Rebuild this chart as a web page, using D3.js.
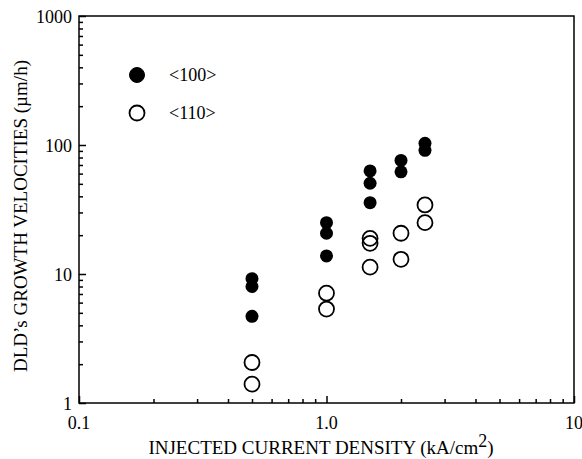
<!DOCTYPE html>
<html>
<head>
<meta charset="utf-8">
<script src="https://cdn.jsdelivr.net/npm/d3@7"></script>
<style>
  body { margin: 0; background: #fff; }
  text { font-family: "Liberation Serif", "DejaVu Serif", serif; fill: #000; }
</style>
</head>
<body>
<svg id="chart" width="582" height="459"></svg>
<script>
// current densities (kA/cm2) and measured velocities (um/h)
var dir100X = [0.5, 0.5, 0.5, 1.0, 1.0, 1.0, 1.5, 1.5, 1.5, 2.0, 2.0, 2.5, 2.5];
var dir100Y = [9.2, 8.0, 4.7, 25.0, 20.7, 13.8, 63, 50.5, 35.7, 76, 62, 103, 91];
var dir110X = [0.5, 0.5, 1.0, 1.0, 1.5, 1.5, 1.5, 2.0, 2.0, 2.5, 2.5];
var dir110Y = [2.06, 1.40, 7.1, 5.35, 18.9, 17.3, 11.3, 20.7, 13.0, 34.3, 25.0];
var xTickLabels = ['0.1', '1.0', '10'];
var yTickLabels = ['1', '10', '100', '1000'];
var legendLabels = ['<100>', '<110>'];

(function () {
    var
    svg = d3.select('#chart'),
    pLeft = 79, pRight = 574, pTop = 16, pBottom = 403;

    var x = d3.scaleLog().domain([0.1, 10]).range([pLeft, pRight]);
    var y = d3.scaleLog().domain([1, 1000]).range([pBottom, pTop]);

    function minorTicks(domain) {
        var out = [];
        for (var d = domain[0]; d < domain[1] * 0.999; d *= 10) {
            for (var k = 2; k <= 9; k++) out.push(d * k);
        }
        return out;
    }
    function noDomain(g) { g.select('.domain').remove(); }

    // frame
    svg.append('rect')
        .attr('x', pLeft).attr('y', pTop)
        .attr('width', pRight - pLeft).attr('height', pBottom - pTop)
        .attr('fill', 'none').attr('stroke', '#000').attr('stroke-width', 1.5);

    // left axis ticks (inward)
    svg.append('g')
        .attr('transform', 'translate(' + pLeft + ',0)')
        .call(d3.axisRight(y).tickValues(minorTicks(y.domain())).tickSize(4).tickFormat(''))
        .call(noDomain);
    svg.append('g')
        .attr('transform', 'translate(' + pLeft + ',0)')
        .call(d3.axisRight(y).tickValues([1, 10, 100, 1000]).tickSize(7).tickFormat(''))
        .call(noDomain);

    // bottom axis ticks (inward)
    svg.append('g')
        .attr('transform', 'translate(0,' + pBottom + ')')
        .call(d3.axisTop(x).tickValues(minorTicks(x.domain())).tickSize(4).tickFormat(''))
        .call(noDomain);
    svg.append('g')
        .attr('transform', 'translate(0,' + pBottom + ')')
        .call(d3.axisTop(x).tickValues([0.1, 1, 10]).tickSize(7).tickFormat(''))
        .call(noDomain);

    svg.selectAll('line').attr('stroke-width', 1.5);

    // tick labels
    svg.selectAll('.ylab').data(yTickLabels).enter().append('text')
        .attr('class', 'ylab')
        .attr('x', pLeft - 7)
        .attr('y', function (d) { return y(+d) + 7; })
        .attr('text-anchor', 'end')
        .attr('font-size', 18)
        .text(function (d) { return d; });

    svg.selectAll('.xlab').data(xTickLabels).enter().append('text')
        .attr('class', 'xlab')
        .attr('x', function (d) { return x(+d); })
        .attr('y', pBottom + 26)
        .attr('text-anchor', 'middle')
        .attr('font-size', 18)
        .text(function (d) { return d; });

    // axis titles
    var xt = svg.append('text')
        .attr('x', 321).attr('y', 454)
        .attr('text-anchor', 'middle')
        .attr('font-size', 19);
    xt.append('tspan').text('INJECTED CURRENT DENSITY (kA/cm');
    xt.append('tspan').attr('dy', -7).attr('font-size', 18).text('2');
    xt.append('tspan').attr('dy', 7).text(')');

    svg.append('text')
        .attr('transform', 'translate(27,216) rotate(-90)')
        .attr('text-anchor', 'middle')
        .attr('font-size', 19)
        .text('DLD\u2019s GROWTH VELOCITIES (\u00b5m/h)');

    // data
    svg.selectAll('.p100').data(dir100X).enter().append('circle')
        .attr('class', 'p100')
        .attr('cx', function (d) { return x(d); })
        .attr('cy', function (d, i) { return y(dir100Y[i]); })
        .attr('r', 6.5)
        .attr('fill', '#000');

    svg.selectAll('.p110').data(dir110X).enter().append('circle')
        .attr('class', 'p110')
        .attr('cx', function (d) { return x(d); })
        .attr('cy', function (d, i) { return y(dir110Y[i]); })
        .attr('r', 7.5)
        .attr('fill', 'none')
        .attr('stroke', '#000')
        .attr('stroke-width', 1.8);

    // legend
    var legend = svg.selectAll('.leg').data(legendLabels).enter().append('g')
        .attr('class', 'leg')
        .attr('transform', function (d, i) { return 'translate(137,' + (75 + i * 38) + ')'; });
    legend.append('circle')
        .attr('r', 7.5)
        .attr('fill', function (d, i) { return i ? 'none' : '#000'; })
        .attr('stroke', '#000')
        .attr('stroke-width', function (d, i) { return i ? 1.8 : 1; });
    legend.append('text')
        .attr('x', 32).attr('y', 6)
        .attr('font-size', 18)
        .text(function (d) { return d; });
})();
</script>
</body>
</html>
